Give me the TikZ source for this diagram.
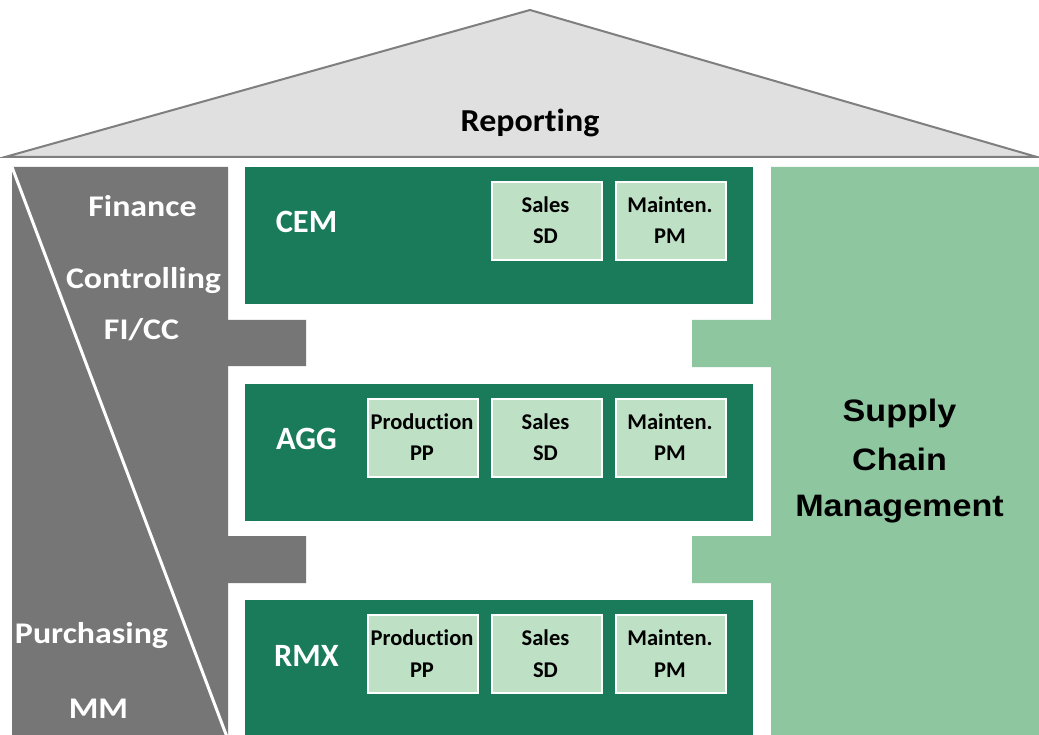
\documentclass[tikz,border=0pt]{standalone}
\usepackage{graphicx}
\usepackage{fontspec}
\setmainfont{Carlito}[Ligatures=NoCommon]
\newfontfamily\arialfont{Liberation Sans}
\definecolor{dgreen}{HTML}{197B5A}
\definecolor{lgreen}{HTML}{8EC6A0}
\definecolor{sgreen}{HTML}{BEE0C5}
\definecolor{sgray}{HTML}{767676}
\definecolor{rooffill}{HTML}{E0E0E0}
\definecolor{roofline}{HTML}{7F7F7F}
\newcommand{\stretchtxt}[1]{\scalebox{1.13}[1]{#1}}
\begin{document}
\begin{tikzpicture}[x=1pt,y=-1pt,
  rowbox/.style={fill=dgreen, draw=none, minimum width=508pt, minimum height=137pt, inner sep=0pt, anchor=north west},
  subbox/.style={fill=sgreen, draw=white, line width=2pt, minimum width=110pt, minimum height=78pt, inner sep=0pt, anchor=north west},
  subtxt/.style={anchor=base, inner sep=0pt, font=\bfseries\fontsize{22.5}{26}\selectfont, text=black},
  rowtxt/.style={anchor=base, inner sep=0pt, font=\bfseries\fontsize{32.5}{38}\selectfont, text=white},
  sidetxt/.style={anchor=base, inner sep=0pt, font=\bfseries\fontsize{30}{34}\selectfont, text=white},
  rooftxt/.style={anchor=base, inner sep=0pt, font=\bfseries\fontsize{32}{38}\selectfont, text=black},
  scmtxt/.style={anchor=base, inner sep=0pt, font=\arialfont\bfseries\fontsize{31}{36}\selectfont, text=black},
]
\useasboundingbox (0,0) rectangle (1039,735);
\fill[white] (0,0) rectangle (1039,735);
% roof
\draw[fill=rooffill, draw=roofline, line width=2pt, line join=miter] (5,157) -- (530,10) -- (1037,157) -- cycle;
\node[rooftxt] (reporting) at (530,132) {\scalebox{1.06}[1]{Report\kern0pt ing}};
% left gray column
\fill[sgray] (12,167) -- (228,167) -- (228,320) -- (306,320) -- (306,366) -- (228,366)
  -- (228,536) -- (306,536) -- (306,583) -- (228,583) -- (228,735) -- (12,735) -- cycle;
\coordinate (diagtop) at (12,167);
\coordinate (diagbot) at (227,737);
\draw[white, line width=3pt] (diagtop) -- (diagbot);
% right panel
\fill[lgreen] (771,167) -- (1039,167) -- (1039,735) -- (771,735) -- (771,583) -- (692,583)
  -- (692,536) -- (771,536) -- (771,367) -- (692,367) -- (692,320) -- (771,320) -- cycle;
% rows
\foreach \T/\lab/\n in {167/CEM/a, 383.5/AGG/b, 600/RMX/c} {
  \node[rowbox] (row\n) at (245,\T) {};
  \node[rowtxt] (lab\n) at (306.5,\T+66) {\lab};
  \node[subbox] (sd\n) at (490.5,\T+14) {};
  \node[subtxt] (sda\n) at (545.5,\T+45.7) {Sales};
  \node[subtxt] (sdb\n) at (545.5,\T+77) {SD};
  \node[subbox] (pm\n) at (615,\T+14) {};
  \node[subtxt] (pma\n) at (670,\T+45.7) {Mainten.};
  \node[subtxt] (pmb\n) at (670,\T+77) {PM};
}
\foreach \T/\n in {383.5/b, 600/c} {
  \node[subbox] (pp\n) at (367,\T+14) {};
  \node[subtxt] (ppa\n) at (422,\T+45.7) {Product\kern0pt ion};
  \node[subtxt] (ppb\n) at (422,\T+77) {PP};
}
% side labels
\node[sidetxt] (fin) at (142.5,217) {\stretchtxt{Finance}};
\node[sidetxt] (ctrl) at (143.5,289) {\stretchtxt{Controlling}};
\node[sidetxt] (ficc) at (141.5,340) {\stretchtxt{FI/CC}};
\node[sidetxt] (purch) at (91.5,643) {\stretchtxt{Purchasing}};
\node[sidetxt] (mm) at (98.5,718) {\stretchtxt{MM}};
% supply chain
\node[scmtxt] (scm1) at (899.5,421.7) {\scalebox{1.1}[1]{Supply}};
\node[scmtxt] (scm2) at (899.5,470) {\scalebox{1.1}[1]{Chain}};
\node[scmtxt] (scm3) at (899.5,516.7) {\scalebox{1.1}[1]{Management}};
\end{tikzpicture}
\end{document}
